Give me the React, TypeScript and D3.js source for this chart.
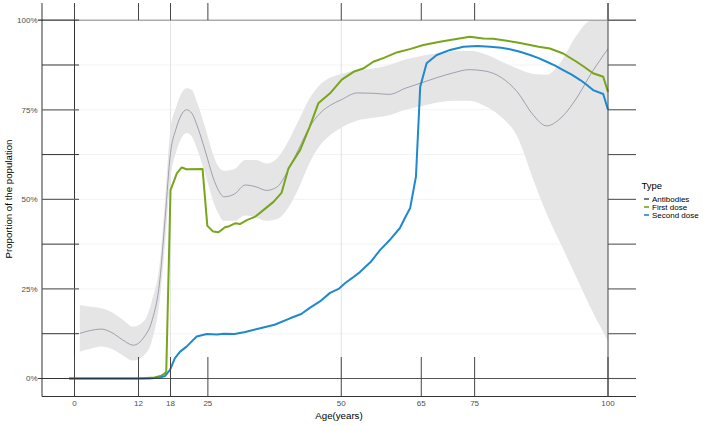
import * as d3 from 'd3'

const W = 709
const H = 426

const xBreaks = [0, 12, 18, 25, 50, 65, 75, 100]
const yBreaks = [0, 0.125, 0.25, 0.375, 0.5, 0.625, 0.75, 0.875, 1]
const yLabels = ['0%', '', '25%', '', '50%', '', '75%', '', '100%']

const types = ['Antibodies', 'First dose', 'Second dose']
const typeColors = ['#52527a', '#77a51b', '#1f88cf']

// antibodies smooth fit, with its band
const abAge = [1, 3, 5, 7, 9, 11, 13, 14.5, 16, 17, 18, 19, 20, 21, 22, 23, 24, 25, 26, 27, 28, 30, 32, 34, 36, 38, 40, 42, 44, 46, 48, 50, 53, 56, 59, 62, 65, 68, 71, 74, 77, 80, 83, 86, 88.5, 91, 94, 97, 100]
const abMean = [12.6, 13.4, 13.8, 12.8, 10.8, 9.3, 11.5, 16, 27.5, 45, 63, 69.5, 73.5, 75, 74, 70.5, 66, 61, 56, 52.5, 50.7, 51.5, 54, 53.5, 52.5, 53.5, 58, 64, 70, 74, 76.3, 77.8, 79.7, 79.6, 79.3, 81, 82.5, 84, 85.3, 86.2, 85.8, 84, 80, 73.5, 70.5, 72.5, 78, 85.5, 92]
const abUpper = [20.5, 20, 19.6, 18.5, 16.5, 14.5, 16, 21.5, 32.5, 50, 70, 75.5, 79.5, 81, 80.5, 77, 72.5, 67.5, 62.5, 59, 58, 58.5, 61, 61, 60, 61.5, 66, 72, 78, 82, 84, 85, 86, 86.5, 87.5, 89, 90, 90.8, 91.3, 91.5, 90.5, 88.5, 86.5, 85, 84.8, 88, 95.5, 100, 100]
const abLower = [7.5, 8.3, 8.9, 8.2, 6.5, 5, 6.5, 10.5, 22, 38, 56, 63, 67, 68.5, 67.5, 64, 59.5, 54.5, 49.5, 46, 44, 44, 45.5, 45, 44, 44.5, 47.5, 53, 60, 65, 68, 70, 72, 72.8, 73.5, 75, 76, 77, 77.5, 77.5, 76, 73, 67.5, 55.5, 46, 38, 28.5, 19, 10.5]

const firstAge = [-1, 12, 15, 16.3, 17, 17.2, 18, 19.2, 20.1, 21, 24, 24.9, 26, 27, 28.2, 29, 30.1, 31, 32.3, 33.8, 35.4, 37.3, 38.8, 40.1, 42.3, 44.1, 45.7, 47.9, 50.1, 52.3, 54.1, 56, 58, 60.4, 63, 65.4, 68.5, 71, 74.1, 76.6, 78.5, 80.4, 83, 85.4, 87, 89.1, 91.6, 94.1, 95.5, 97.2, 99.1, 100]
const firstVal = [0, 0, 0.3, 0.8, 1.5, 2, 52.6, 57.3, 58.9, 58.4, 58.5, 42.6, 41, 40.8, 42.2, 42.5, 43.3, 43.1, 44.2, 45.1, 47, 49.3, 51.8, 58.6, 63.8, 70.3, 76.8, 79.6, 83.4, 85.6, 86.5, 88.4, 89.5, 91, 92, 93.1, 94, 94.6, 95.4, 94.9, 94.8, 94.4, 93.8, 93.1, 92.6, 92.1, 90.7, 88.4, 87, 85.2, 84.2, 80]

const secondAge = [-1, 14, 16, 17, 17.9, 18.8, 19.8, 21, 22.9, 24.8, 26.7, 28, 30, 32, 34.8, 37.5, 40.4, 42.5, 44.1, 46, 47.9, 49.5, 50.7, 52, 53.5, 55.5, 57.3, 59, 61, 62, 62.9, 64, 64.8, 66, 67.9, 70.4, 72.9, 75.5, 77.9, 80, 81.6, 83.5, 85.4, 87, 88.5, 90, 91.6, 93.2, 94.8, 96, 97.2, 99.1, 100]
const secondVal = [0, 0, 0.3, 0.7, 2.4, 5.6, 7.5, 8.9, 11.7, 12.4, 12.3, 12.5, 12.4, 13, 14, 15, 16.8, 18, 19.7, 21.5, 23.9, 25, 26.6, 28, 29.7, 32.5, 35.9, 38.5, 42, 45, 47.5, 56.3, 81.4, 88, 90.3, 91.7, 92.6, 92.8, 92.6, 92.3, 91.9, 91.2, 90.3, 89.4, 88.4, 87.4, 86.1, 84.8, 83.3, 82, 80.5, 79.4, 75]

const font = 'Liberation Sans, Arial, Helvetica, sans-serif'

export default function App() {
  const x = d3.scaleLinear().domain([0, 100]).range([74.5, 608])
  const y = d3.scaleLinear().domain([0, 1]).range([378.5, 20.2])

  const left = 42
  const right = 636
  const top = 3
  const bottom = 396.5

  const ab = abAge.map((a, i) => ({a, m: abMean[i] / 100, lo: abLower[i] / 100, hi: Math.min(abUpper[i], 100) / 100}))
  const band = d3.area<typeof ab[number]>()
    .x(d => x(d.a))
    .y0(d => y(d.lo))
    .y1(d => y(d.hi))
    .curve(d3.curveMonotoneX)(ab) ?? undefined
  const abLine = d3.line<typeof ab[number]>()
    .x(d => x(d.a))
    .y(d => y(d.m))
    .curve(d3.curveMonotoneX)(ab) ?? undefined

  const doseLine = d3.line<number[]>().x(d => x(d[0])).y(d => y(d[1] / 100))
  const first = doseLine(firstAge.map((a, i) => [a, firstVal[i]])) ?? undefined
  const second = doseLine(secondAge.map((a, i) => [a, secondVal[i]])) ?? undefined

  return (
    <svg width={W} height={H} style={{position: 'absolute', left: 0, top: 0}} fontFamily={font}>
      <rect width={W} height={H} fill='#fff' />

      {/* faint grid */}
      {yBreaks.map(b => (
        <line key={'gy' + b} x1={79} x2={x(100)} y1={y(b)} y2={y(b)} stroke='#f0f0f0' strokeWidth={0.8} />
      ))}
      {[18, 50].map(b => (
        <line key={'gx' + b} x1={x(b)} x2={x(b)} y1={y(1)} y2={y(0)} stroke='#dcdcdc' strokeWidth={0.8} />
      ))}

      <path d={band} fill='#e5e5e5' />
      <path d={abLine} fill='none' stroke='#9696a8' strokeWidth={0.9} />
      <path d={first} fill='none' stroke={typeColors[1]} strokeWidth={2} strokeLinejoin='round' />
      <path d={second} fill='none' stroke={typeColors[2]} strokeWidth={2} strokeLinejoin='round' />

      {/* frame lines */}
      <line x1={left} x2={left} y1={top} y2={bottom} stroke='#333' />
      <line x1={x(0)} x2={x(0)} y1={top} y2={bottom} stroke='#333' />
      <line x1={x(100)} x2={x(100)} y1={top} y2={bottom} stroke='#444' />
      <line x1={left} x2={right} y1={bottom} y2={bottom} stroke='#333' />
      <line x1={38} x2={right} y1={y(0)} y2={y(0)} stroke='#222' strokeOpacity={0.75} />
      <line x1={79} x2={right} y1={y(1)} y2={y(1)} stroke='#888' />

      {/* y ticks, both sides */}
      {yBreaks.map((b, i) => (
        <g key={'ty' + b}>
          <line x1={b === 0 || b === 1 ? 38 : left} x2={79} y1={y(b)} y2={y(b)} stroke={i % 2 === 0 && b > 0 && b < 1 ? '#666' : '#333'} strokeWidth={i % 2 === 0 ? 1.2 : 1} />
          <line x1={x(100)} x2={right} y1={y(b)} y2={y(b)} stroke='#555' strokeWidth={1.1} />
          {yLabels[i] && (
            <text x={37.5} y={y(b)} dy='0.35em' textAnchor='end' fontSize={8} fill='#4d4d4d'>{yLabels[i]}</text>
          )}
        </g>
      ))}

      {/* x ticks, top and bottom */}
      {xBreaks.map(b => (
        <g key={'tx' + b}>
          <line x1={x(b)} x2={x(b)} y1={top} y2={y(1)} stroke='#444' />
          <line x1={x(b)} x2={x(b)} y1={357} y2={bottom} stroke='#444' />
          <text x={x(b)} y={406} textAnchor='middle' fontSize={8} fill='#4d4d4d'>{b}</text>
        </g>
      ))}

      <text x={339} y={419} textAnchor='middle' fontSize={9.7} fill='#000'>Age(years)</text>
      <text transform={`translate(12, 199) rotate(-90)`} textAnchor='middle' fontSize={9.7} fill='#000'>Proportion of the population</text>

      {/* legend */}
      <g>
        <text x={641.5} y={188.5} fontSize={9.5} fill='#000'>Type</text>
        {types.map((t, i) => (
          <g key={t} transform={`translate(0, ${199 + i * 8})`}>
            <line x1={644} x2={649} y1={0} y2={0} stroke={typeColors[i]} strokeWidth={1.6} />
            <text x={652} y={0} dy='0.35em' fontSize={8} fill='#000'>{t}</text>
          </g>
        ))}
      </g>
    </svg>
  )
}
